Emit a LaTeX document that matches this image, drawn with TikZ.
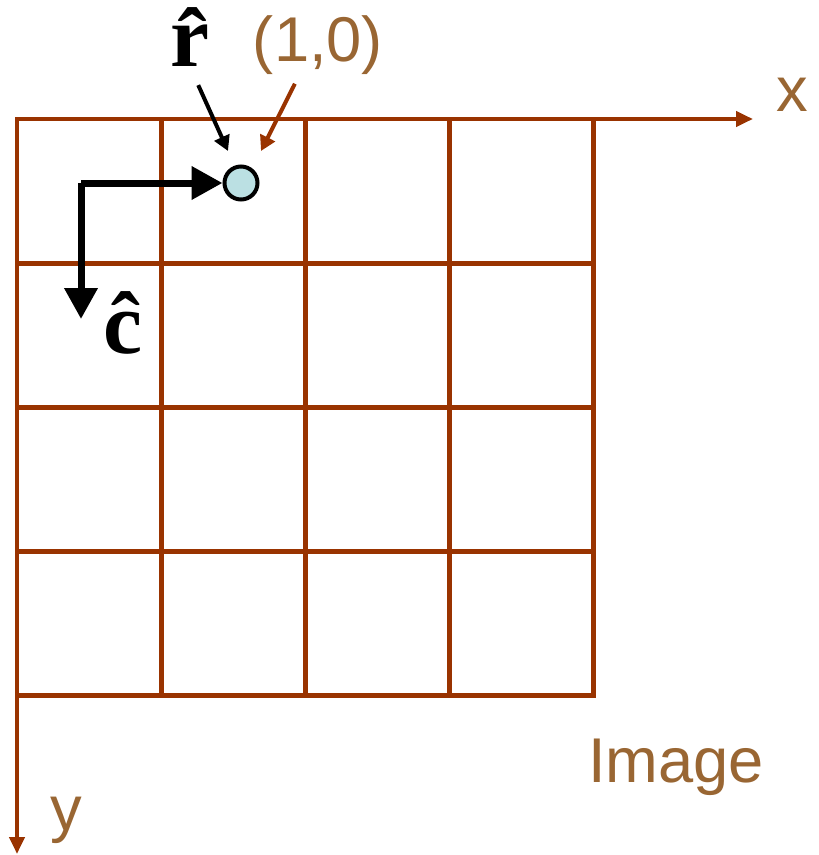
\documentclass[tikz,border=0pt]{standalone}
\usepackage{fontspec}
\setmainfont{Liberation Sans}
\newfontfamily\hatfont{Liberation Serif}
\usetikzlibrary{arrows.meta}
\definecolor{gridbrown}{HTML}{993300}
\definecolor{textbrown}{HTML}{996633}
\definecolor{dotblue}{HTML}{BBE0E3}

\begin{document}
\begin{tikzpicture}[x=0.02cm,y=-0.02cm,
  gridline/.style={draw=gridbrown,line width=0.1cm,line cap=rect},
  axisline/.style={draw=gridbrown,line width=0.1cm,-{Triangle[length=0.34cm,width=0.3cm]}},
  bigarrow/.style={draw=black,line width=0.14cm,line join=miter,-{Triangle[length=0.62cm,width=0.64cm]}},
  pointer/.style={line width=0.08cm,-{Triangle[length=0.3cm,width=0.32cm]}},
  axislabel/.style={text=textbrown,inner sep=0pt,font=\fontsize{36}{43}\selectfont},
  hatlabel/.style={inner sep=0pt,font=\hatfont\bfseries\fontsize{50}{60}\selectfont}]
  \useasboundingbox (0,0) rectangle (818,855);
  % grid of pixels
  \foreach \i in {0,...,4}{
    \draw[gridline] (17+144*\i,119) -- (17+144*\i,695);
    \draw[gridline] (17,119+144*\i) -- (593,119+144*\i);
  }
  % axes
  \coordinate (O) at (17,119);
  \coordinate (xend) at (753,119);
  \coordinate (yend) at (17,854);
  \draw[axisline] (O) -- (xend);
  \draw[axisline] (O) -- (yend);
  \node[axislabel] (xlab) at (792,95) {x};
  \node[axislabel] (ylab) at (66,820) {y};
  \node[axislabel] (imglab) at (676,767) {Image};
  % pixel point and unit vectors
  \node[circle,draw=black,line width=0.08cm,fill=dotblue,minimum size=0.66cm,inner sep=0pt] (pt) at (241,183) {};
  \coordinate (corner) at (81,183);
  \coordinate (ctip) at (81,319);
  \draw[bigarrow] (corner) -- (pt.west);
  \draw[bigarrow] (corner) -- (ctip);
  \node[hatlabel] (rlab) at (190,37) {\^{r}};
  \node[hatlabel] (clab) at (123,323) {\^{c}};
  \node[axislabel] (ptlab) at (318,45) {(1,0)};
  \coordinate (rtip) at (228,151);
  \coordinate (ptip) at (261,151);
  \draw[pointer,shorten <=0.4cm] (rlab.south) -- (rtip);
  \draw[pointer,draw=gridbrown,fill=gridbrown,shorten <=0.2cm] (ptlab.238) -- (ptip);
\end{tikzpicture}
\end{document}
